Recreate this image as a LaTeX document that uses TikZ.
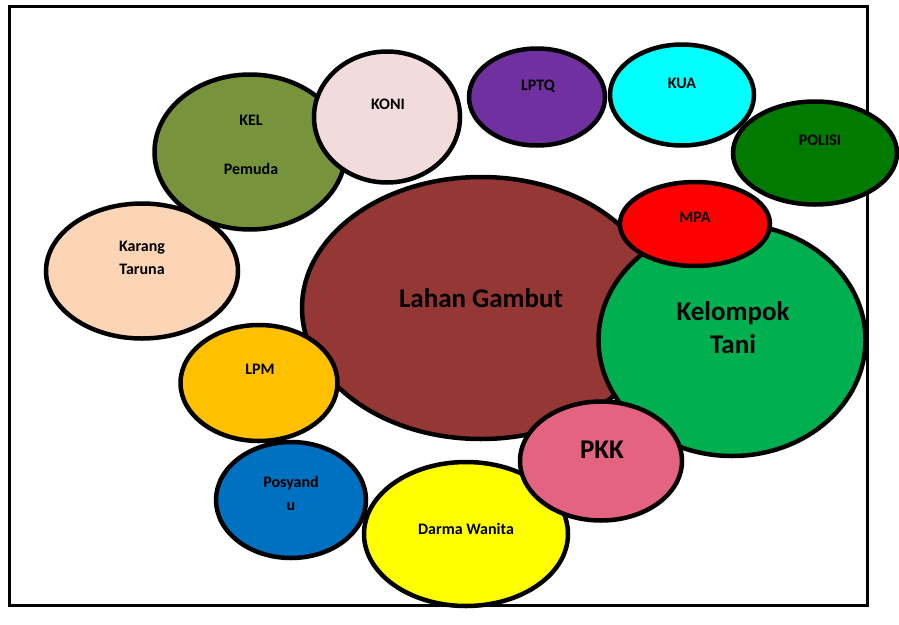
\documentclass[tikz,border=0pt]{standalone}
\usepackage{fontspec}
\setmainfont{Carlito}
\usetikzlibrary{shapes.geometric}
\definecolor{cKel}{HTML}{77933C}
\definecolor{cKoni}{HTML}{F2DCDB}
\definecolor{cKarang}{HTML}{FBD5B5}
\definecolor{cLahan}{HTML}{953735}
\definecolor{cLptq}{HTML}{7030A0}
\definecolor{cKua}{HTML}{00FFFF}
\definecolor{cPolisi}{HTML}{007A00}
\definecolor{cMpa}{HTML}{FF0000}
\definecolor{cTani}{HTML}{00B050}
\definecolor{cLpm}{HTML}{FFC000}
\definecolor{cPosy}{HTML}{0070C0}
\definecolor{cDarma}{HTML}{FFFF00}
\definecolor{cPkk}{HTML}{E46380}
\tikzset{
  blob/.style={ellipse, draw=black, line width=4.5pt, inner sep=0pt},
  small/.style={font=\bfseries\fontsize{16}{23}\selectfont, align=center, inner sep=0pt},
  big/.style={font=\bfseries\fontsize{27}{33}\selectfont, align=center, inner sep=0pt}
}
\begin{document}
\begin{tikzpicture}[x=1pt,y=-1pt]
\useasboundingbox (0,0) rectangle (899,624);
\fill[white] (0,0) rectangle (899,624);
\draw[line width=3pt] (9,6) rectangle (867,605);
% ellipses
\node[blob, fill=cKarang, minimum width=192, minimum height=135] (karang) at (142,271) {};
\node[blob, fill=cKel, minimum width=191, minimum height=155] (kel) at (250,152) {};
\node[blob, fill=cKoni, minimum width=146, minimum height=131] (koni) at (387,117) {};
\node[blob, fill=cLahan, minimum width=358, minimum height=262] (lahan) at (481,308) {};
\node[blob, fill=cLptq, minimum width=136, minimum height=97] (lptq) at (537,97) {};
\node[blob, fill=cKua, minimum width=144, minimum height=101] (kua) at (682,95) {};
\node[blob, fill=cPolisi, minimum width=164, minimum height=103] (polisi) at (815,153) {};
\node[blob, fill=cTani, minimum width=267, minimum height=232] (tani) at (732,340) {};
\node[blob, fill=cMpa, minimum width=150, minimum height=84] (mpa) at (695,224) {};
\node[blob, fill=cLpm, minimum width=157, minimum height=116] (lpm) at (259,383) {};
\node[blob, fill=cPosy, minimum width=150, minimum height=116] (posy) at (291,500) {};
\node[blob, fill=cDarma, minimum width=204, minimum height=144] (darma) at (466,534) {};
\node[blob, fill=cPkk, minimum width=162, minimum height=119] (pkk) at (601,461) {};
% labels
\node[small] (tkel) at (251,120) {KEL};
\node[small] (tpem) at (251,169) {Pemuda};
\node[small] (tkoni) at (388,104) {KONI};
\node[small] (tkarang) at (142,258) {Karang\\Taruna};
\node[big] (tlahan) at (481,298) {Lahan Gambut};
\node[small] (tlptq) at (538,86) {LPTQ};
\node[small] (tkua) at (682,83) {KUA};
\node[small] (tpolisi) at (820,140) {POLISI};
\node[small] (tmpa) at (695,217) {MPA};
\node[big] (ttani) at (733,328) {Kelompok\\Tani};
\node[big] (tpkk) at (602,450) {PKK};
\node[small] (tdarma) at (466,529) {Darma Wanita};
\node[small] (tlpm) at (260,369) {LPM};
\node[small] (tposy) at (291,493) {Posyand\\u};
\end{tikzpicture}
\end{document}
